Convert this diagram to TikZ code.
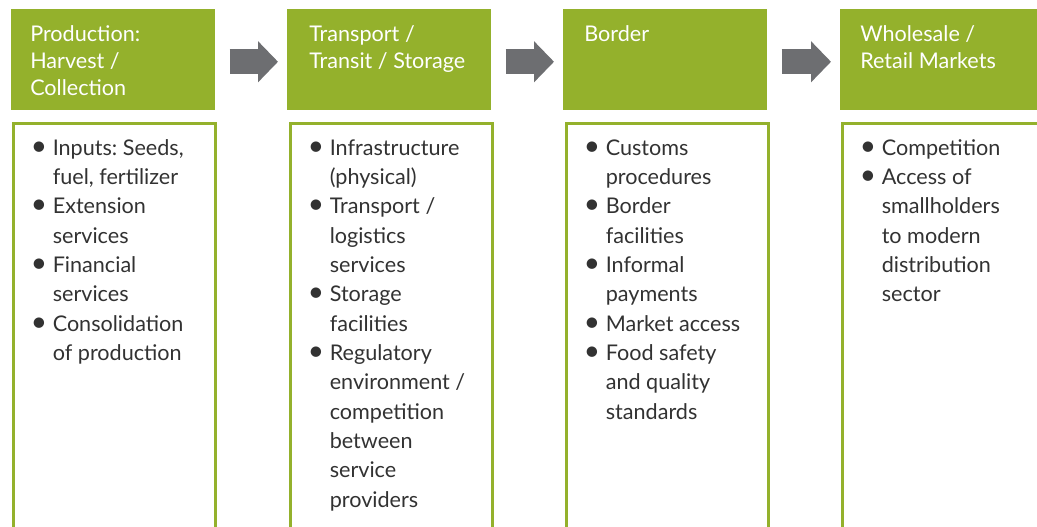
\documentclass[tikz,border=0pt]{standalone}
\usepackage{fontspec}
\setmainfont{Lato}
\usetikzlibrary{positioning,calc,arrows.meta}

\definecolor{stagegreen}{RGB}{148,177,44}
\definecolor{arrowgray}{RGB}{109,110,113}
\definecolor{bodygray}{RGB}{50,50,50}

% bullet mark and bullet list as a two-column table
\newcommand{\bmark}{{\fontsize{21}{22}\selectfont\textbullet}}
\newenvironment{blist}{\begin{tabular}[t]{@{}p{16.5pt}@{}l@{}}}{\end{tabular}}

\begin{document}
\begin{tikzpicture}[
  x=0.75pt, y=-0.75pt,
  font=\fontsize{16.2}{20.25}\selectfont\frenchspacing,
  stagehead/.style={rectangle, fill=stagegreen, minimum width=153pt, minimum height=75.75pt, anchor=north west, inner sep=0pt},
  stagebody/.style={rectangle, draw=stagegreen, line width=2.25pt, minimum width=151.5pt, minimum height=303.75pt, anchor=north west, inner sep=0pt},
  headtext/.style={anchor=north west, inner sep=0pt, text=white, align=left},
  bodytext/.style={anchor=north west, inner sep=0pt, text=bodygray, font=\fontsize{16.2}{22}\selectfont\frenchspacing},
  flowarrow/.style={draw=arrowgray, line width=18.75pt, -{Triangle[length=15pt, width=30pt]}, shorten <=10.5pt, shorten >=6.75pt}
]
\useasboundingbox (0,0) rectangle (1037,527);

% stage headers
\node[stagehead] (h1) at (11,9) {};
\node[stagehead] (h2) at (287,9) {};
\node[stagehead] (h3) at (563,9) {};
\node[stagehead] (h4) at (840,9) {};

\node[headtext] (t1) at ($(h1.north west)+(19,16)$) {Production:\\Harvest /\\Collection};
\node[headtext] (t2) at ($(h2.north west)+(22,16)$) {Transport /\\Transit / Storage};
\node[headtext] (t3) at ($(h3.north west)+(21,16)$) {Border};
\node[headtext] (t4) at ($(h4.north west)+(20,16)$) {Wholesale /\\Retail Markets};

% arrows between stages
\draw[flowarrow] ([yshift=-1.5]h1.east) -- ([yshift=-1.5]h2.west);
\draw[flowarrow] ([yshift=-1.5]h2.east) -- ([yshift=-1.5]h3.west);
\draw[flowarrow] ([yshift=-1.5]h3.east) -- ([yshift=-1.5]h4.west);

% stage contents
\node[stagebody] (b1) at (11.5,122.5) {};
\node[stagebody] (b2) at (288.5,122.5) {};
\node[stagebody] (b3) at (564.5,122.5) {};
\node[stagebody] (b4) at (840.5,122.5) {};

\node[bodytext] (l1) at ($(b1.north west)+(19,12)$) {\begin{blist}
\bmark & Inputs: Seeds,\\ & fuel, fertilizer\\
\bmark & Extension\\ & services\\
\bmark & Financial\\ & services\\
\bmark & Consolidation\\ & of production
\end{blist}};

\node[bodytext] (l2) at ($(b2.north west)+(19,12)$) {\begin{blist}
\bmark & Infrastructure\\ & (physical)\\
\bmark & Transport /\\ & logistics\\ & services\\
\bmark & Storage\\ & facilities\\
\bmark & Regulatory\\ & environment /\\ & competition\\ & between\\ & service\\ & providers
\end{blist}};

\node[bodytext] (l3) at ($(b3.north west)+(19,12)$) {\begin{blist}
\bmark & Customs\\ & procedures\\
\bmark & Border\\ & facilities\\
\bmark & Informal\\ & payments\\
\bmark & Market access\\
\bmark & Food safety\\ & and quality\\ & standards
\end{blist}};

\node[bodytext] (l4) at ($(b4.north west)+(19,12)$) {\begin{blist}
\bmark & Competition\\
\bmark & Access of\\ & smallholders\\ & to modern\\ & distribution\\ & sector
\end{blist}};

\end{tikzpicture}
\end{document}
